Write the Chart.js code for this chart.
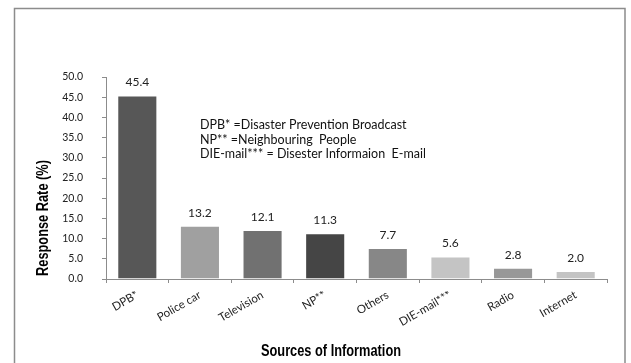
<!DOCTYPE html>
<html>
<head>
<meta charset="utf-8">
<script src="https://cdn.jsdelivr.net/npm/chart.js@4.4.0/dist/chart.umd.min.js"></script>
<style>
  html, body { margin: 0; padding: 0; background: #fff; }
  #wrap { width: 631px; height: 363px; }
</style>
</head>
<body>
<div id="wrap"><canvas id="sourcesChart" width="631" height="363"></canvas></div>
<script>
const categories = ['DPB*', 'Police car', 'Television', 'NP**', 'Others', 'DIE-mail***', 'Radio', 'Internet'];
const responseRates = [45.4, 13.2, 12.1, 11.3, 7.7, 5.6, 2.8, 2.0];
const barColors = ['#575757', '#a0a0a0', '#717171', '#454545', '#878787', '#c4c4c4', '#989898', '#c4c4c4'];
const noteLines = [
    'DPB* =Disaster Prevention Broadcast',
    'NP** =Neighbouring  People',
    'DIE-mail*** = Disester Informaion  E-mail'
];
const yTitle = 'Response Rate (%)';
const xTitle = 'Sources of Information';

// frame, titles, note and value labels
const extrasPlugin = {
    id: 'extras',
    afterDraw(chart) {
        const c = chart.ctx;
        c.save();

        // frame (left, top, right - bottom runs off the picture)
        c.strokeStyle = '#8c8c8c';
        c.lineWidth = 1.5;
        c.beginPath();
        c.moveTo(14.5, 363);
        c.lineTo(14.5, 8.5);
        c.lineTo(625, 8.5);
        c.lineTo(625, 363);
        c.stroke();

        // value labels above bars
        c.fillStyle = '#222';
        c.font = '12px Lato';
        c.textAlign = 'center';
        c.textBaseline = 'middle';
        chart.getDatasetMeta(0).data.forEach((bar, i) => {
            c.fillText(responseRates[i].toFixed(1), bar.x, bar.y - 13);
        });

        // note
        c.textAlign = 'left';
        c.font = '12.5px Lato';
        c.fillStyle = '#111';
        noteLines.forEach((line, i) => {
            c.fillText(line, 200, 125 + i * 14.5);
        });

        // axis titles, squeezed like the original
        c.fillStyle = '#000';
        c.font = 'bold 16px "Liberation Sans"';
        c.textAlign = 'center';
        c.textBaseline = 'alphabetic';

        c.save();
        c.translate(48, 218);
        c.rotate(-Math.PI / 2);
        c.scale(0.8, 1);
        c.fillText(yTitle, 0, 0);
        c.restore();

        c.save();
        c.translate(331, 356);
        c.scale(0.8, 1);
        c.fillText(xTitle, 0, 0);
        c.restore();

        c.restore();
    }
};

const ctx = document.getElementById('sourcesChart').getContext('2d');
const sourcesChart = new Chart(ctx, {
    type: 'bar',
    data: {
        labels: categories,
        datasets: [{
            data: responseRates,
            backgroundColor: barColors,
            borderColor: 'rgba(255,255,255,0.45)',
            borderWidth: 1,
            barPercentage: 0.64,
            categoryPercentage: 1
        }]
    },
    options: {
        responsive: false,
        animation: false,
        layout: { padding: { top: 77, right: 24, bottom: 0, left: 0 } },
        plugins: {
            legend: { display: false },
            tooltip: { enabled: false }
        },
        scales: {
            x: {
                afterFit: (scale) => { scale.height = 84; },
                grid: {
                    display: true,
                    drawOnChartArea: false,
                    color: '#8c8c8c',
                    tickLength: 4,
                    offset: true
                },
                border: { color: '#8c8c8c', width: 1 },
                ticks: {
                    color: '#222',
                    font: { family: 'Lato', size: 11.5 },
                    minRotation: 30,
                    maxRotation: 30,
                    padding: 5
                }
            },
            y: {
                min: 0,
                max: 50,
                afterFit: (scale) => { scale.width = 106; },
                grid: {
                    display: true,
                    drawOnChartArea: false,
                    color: '#8c8c8c',
                    tickLength: 4
                },
                border: { color: '#8c8c8c', width: 1 },
                ticks: {
                    stepSize: 5,
                    color: '#222',
                    font: { family: 'Lato', size: 10.5 },
                    padding: 19,
                    callback: (v) => v.toFixed(1)
                }
            }
        }
    },
    plugins: [extrasPlugin]
});
</script>
</body>
</html>
